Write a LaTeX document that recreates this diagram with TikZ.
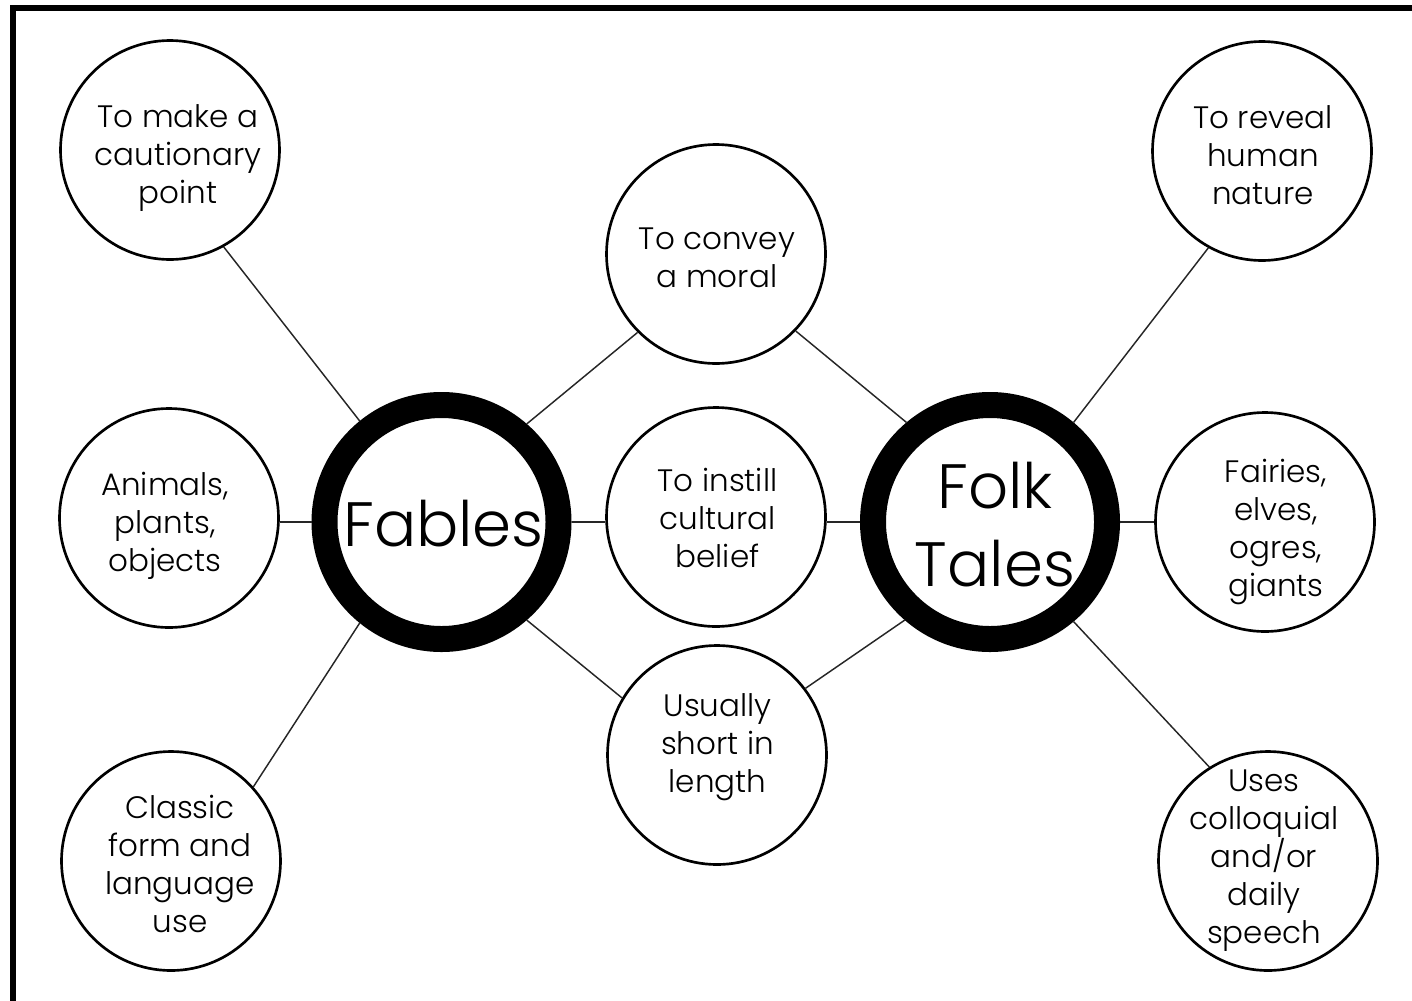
\documentclass[tikz,border=0pt]{standalone}
\usepackage{fontspec}
\IfFontExistsTF{Poppins Light}{\setmainfont{Poppins Light}}{\setmainfont{Poppins}}
\begin{document}
\begin{tikzpicture}[x=0.75pt,y=-0.75pt,
  sub/.style={circle, draw, fill=white, line width=2pt, minimum size=164.25pt, inner sep=0pt},
  hub/.style={circle, draw, fill=white, line width=19.5pt, minimum size=175.5pt, inner sep=0pt},
  lbl/.style={align=center, inner sep=0pt, font=\fontsize{23.25}{28.5}\selectfont},
  big/.style={align=center, inner sep=0pt, font=\fontsize{47}{58.5}\selectfont},
  link/.style={line width=1.1pt, black!85},
  frame/.style={line width=4.5pt, line join=miter}]
\useasboundingbox (0,0) rectangle (1412,1000);
\draw[frame] (13,1010) -- (13,8) -- (1420,8);

\node[sub] (make) at (170,150) {};
\node[sub] (reveal) at (1262,151) {};
\node[sub] (convey) at (716,254) {};
\node[sub] (instill) at (716,517) {};
\node[sub] (usually) at (717,755) {};
\node[sub] (animals) at (169,518) {};
\node[sub] (fairies) at (1265,522) {};
\node[sub] (classic) at (171,861) {};
\node[sub] (uses) at (1268,861) {};
\node[hub] (fables) at (441.5,522) {};
\node[hub] (folk) at (990,522) {};

\node[lbl] (tmake) at (178,158) {To make a\\cautionary\\point};
\node[lbl] (treveal) at (1263,155) {To reveal\\human\\nature};
\node[lbl] (tconvey) at (717,258) {To convey\\a moral};
\node[lbl] (tinstill) at (717.5,518) {To instill\\cultural\\belief};
\node[lbl] (tusually) at (717.5,747) {Usually\\short in\\length};
\node[lbl] (tanimals) at (165,526) {Animals,\\plants,\\objects};
\node[lbl] (tfairies) at (1276,532) {Fairies,\\elves,\\ogres,\\giants};
\node[lbl] (tclassic) at (180,864) {Classic\\form and\\language\\use};
\node[lbl] (tuses) at (1264,861) {Uses\\colloquial\\and/or\\daily\\speech};
\node[big] (tfables) at (443.5,524) {Fables};
\node[big] (tfolk) at (995,524.5) {Folk\\Tales};

\draw[link] (fables.129.5) -- (make.299);
\draw[link] (fables.west) -- (fables.west -| animals.east);
\draw[link] (fables.231.4) -- (classic.42);
\draw[link] (fables.49) -- (convey.225);
\draw[link] (fables.east) -- (fables.east -| instill.west);
\draw[link] (fables.311) -- (usually.149);
\draw[link] (folk.130) -- (convey.316);
\draw[link] (folk.west) -- (folk.west -| instill.east);
\draw[link] (folk.229) -- (usually.37);
\draw[link] (folk.50) -- (reveal.241);
\draw[link] (folk.east) -- (fairies.west);
\draw[link] (folk.310) -- (uses.122);
\end{tikzpicture}
\end{document}
